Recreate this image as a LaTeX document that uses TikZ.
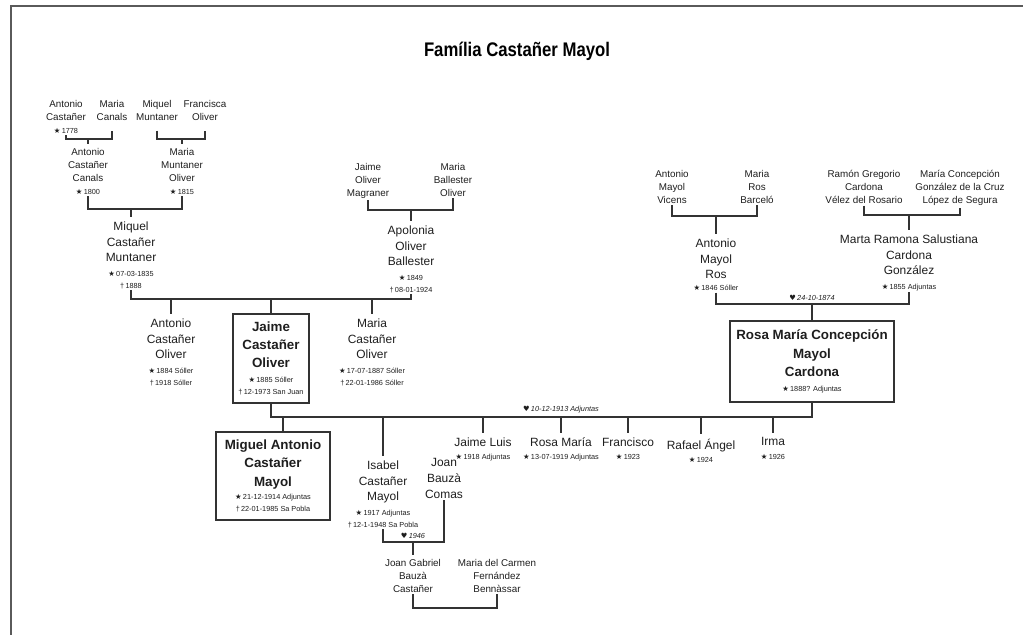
\documentclass[tikz,border=0pt]{standalone}
\usepackage{fontspec}
\setmainfont{Liberation Sans}
\newfontfamily\symfont{DejaVu Sans}
\usetikzlibrary{positioning}

\definecolor{linecol}{HTML}{333333}
\definecolor{framecol}{HTML}{5A5A5A}
\definecolor{textcol}{HTML}{1E1E1E}

\newcommand{\bsym}{{\symfont ★}\,}
\newcommand{\dsym}{†\,}
\newcommand{\msym}{{\symfont ♥}\,}
\newcommand{\dates}[1]{{\fontsize{5.2}{8}\selectfont\mdseries #1}}

\tikzset{
    pers/.style={align=center, inner sep=1pt, anchor=north, text=textcol,
                 font=\fontsize{7}{9.2}\selectfont},            % small names
    persm/.style={pers, font=\fontsize{8.5}{11.2}\selectfont},  % bigger names
    persb/.style={align=center, draw=linecol, line width=1.3pt, text=textcol,
                  inner sep=2pt, font=\bfseries\fontsize{9.5}{13}\selectfont}, % main line, boxed
    wedlabel/.style={inner sep=1pt, anchor=south, text=textcol,
                     font=\fontsize{5.2}{8}\selectfont},         % date of the wedding
    link/.style={draw=linecol, line width=1pt},
    kid/.style={link, shorten >=2pt},
}

\begin{document}
\begin{tikzpicture}[x=0.025cm, y=-0.025cm]
\useasboundingbox (0,0) rectangle (1023,635);
\draw[framecol, line width=1.6pt] (11,640) -- (11,6) -- (1030,6);

\node (title) at (517,51) {\scalebox{0.85}[1]{\bfseries\fontsize{14}{16}\selectfont Família Castañer Mayol}};

% great-great-grandparents
\node[pers] (acas) at (66,99) {Antonio\\Castañer\\\dates{\bsym 1778}};
\node[pers] (mcan) at (112,99) {Maria\\Canals};
\node[pers] (mmun) at (157,99) {Miquel\\Muntaner};
\node[pers] (foli) at (205,99) {Francisca\\Oliver};

% great-grandparents
\node[pers] (acc) at (88,147) {Antonio\\Castañer\\Canals\\\dates{\bsym 1800}};
\node[pers] (mmo) at (182,147) {Maria\\Muntaner\\Oliver\\\dates{\bsym 1815}};
\node[pers] (jom) at (368,162) {Jaime\\Oliver\\Magraner};
\node[pers] (mbo) at (453,162) {Maria\\Ballester\\Oliver};
\node[pers] (amv) at (672,169) {Antonio\\Mayol\\Vicens};
\node[pers] (mrb) at (757,169) {Maria\\Ros\\Barceló};
\node[pers] (rgc) at (864,169) {Ramón Gregorio\\Cardona\\Vélez del Rosario};
\node[pers] (mcg) at (960,169) {María Concepción\\González de la Cruz\\López de Segura};

% grandparents
\node[persm] (mcm) at (131,220) {Miquel\\Castañer\\Muntaner\\[-1pt]\dates{\bsym 07-03-1835}\\[-2.6pt]\dates{\dsym 1888}};
\node[persm] (aob) at (411,224) {Apolonia\\Oliver\\Ballester\\[-1pt]\dates{\bsym 1849}\\[-2.6pt]\dates{\dsym 08-01-1924}};
\node[persm] (amr) at (716,237) {Antonio\\Mayol\\Ros\\[-2.6pt]\dates{\bsym 1846 Sóller}};
\node[persm] (mrs) at (909,233) {Marta Ramona Salustiana\\Cardona\\González\\[-1pt]\dates{\bsym 1855 Adjuntas}};

% parents and their siblings
\node[persm] (aco) at (171,317) {Antonio\\Castañer\\Oliver\\[-1pt]\dates{\bsym 1884 Sóller}\\[-2.6pt]\dates{\dsym 1918 Sóller}};
\node[persb, minimum width=1.9cm, minimum height=2.225cm] (jco) at (271,358.5)
    {Jaime\\Castañer\\Oliver\\[-2.3pt]\dates{\bsym 1885 Sóller}\\[-4.5pt]\dates{\dsym 12-1973 San Juan}};
\node[persm] (mco) at (372,317) {Maria\\Castañer\\Oliver\\[-1pt]\dates{\bsym 17-07-1887 Sóller}\\[-2.6pt]\dates{\dsym 22-01-1986 Sóller}};
\node[persb, minimum width=4.1cm, minimum height=2.025cm] (rmc) at (812,361.5)
    {Rosa María Concepción\\Mayol\\Cardona\\[-2.3pt]\dates{\bsym 1888? Adjuntas}};

% children
\node[persb, minimum width=2.85cm, minimum height=2.2cm] (mac) at (273,476)
    {Miguel Antonio\\Castañer\\Mayol\\[-3.5pt]\dates{\bsym 21-12-1914 Adjuntas}\\[-4.5pt]\dates{\dsym 22-01-1985 Sa Pobla}};
\node[persm] (icm) at (383,459) {Isabel\\Castañer\\Mayol\\[-1pt]\dates{\bsym 1917 Adjuntas}\\[-2.6pt]\dates{\dsym 12-1-1948 Sa Pobla}};
\node[persm] (jbc) at (444,457) {Joan\\Bauzà\\Comas};
\node[persm] (jl) at (483,436) {Jaime Luis\\[-1.8pt]\dates{\bsym 1918 Adjuntas}};
\node[persm] (rm) at (561,436) {Rosa María\\[-1.8pt]\dates{\bsym 13-07-1919 Adjuntas}};
\node[persm] (fr) at (628,436) {Francisco\\[-1.8pt]\dates{\bsym 1923}};
\node[persm] (ra) at (701,437) {Rafael Ángel\\[-1.8pt]\dates{\bsym 1924}};
\node[persm] (ir) at (773,436) {Irma\\[-1.8pt]\dates{\bsym 1926}};

% grandchildren
\node[pers] (jgb) at (413,558) {Joan Gabriel\\Bauzà\\Castañer};
\node[pers] (mcf) at (497,558) {Maria del Carmen\\Fernández\\Bennàssar};

% bars of the couples
\coordinate (c1) at (88,139);
\coordinate (c2) at (182,139);
\coordinate (c3) at (131,209);
\coordinate (c4) at (411,210);
\coordinate (c5) at (716,216);
\coordinate (c6) at (909,215);
\coordinate (w1) at (271,299);
\coordinate (w2) at (812,304);
\coordinate (w3) at (541,417);
\coordinate (w4) at (413,542);
\coordinate (w5) at (455,608);
\coordinate (mactop) at ([xshift=0.25cm]mac.north);

\draw[link] (acas.south) |- (c1) -| ([yshift=-0.2cm]mcan.south);
\draw[link] ([yshift=-0.2cm]mmun.south) |- (c2) -| ([yshift=-0.2cm]foli.south);
\draw[kid] (c1) -- (acc.north);
\draw[kid] (c2) -- (mmo.north);
\draw[link] (acc.south) |- (c3) -| (mmo.south);
\draw[kid] (c3) -- (mcm.north);
\draw[link] (jom.south) |- (c4) -| (mbo.south);
\draw[kid] (c4) -- (aob.north);
\draw[link] (amv.south) |- (c5) -| (mrb.south);
\draw[kid] (c5) -- (amr.north);
\draw[link] (rgc.south) |- (c6) -| (mcg.south);
\draw[kid] (c6) -- (mrs.north);

\draw[link] (mcm.south) |- (w1) -| (aob.south);
\foreach \k in {aco, mco} \draw[kid] (\k.north |- w1) -- (\k.north);
\draw[link] (jco.north |- w1) -- (jco.north);

\draw[link] (amr.south) |- (w2) -| (mrs.south);
\draw[link] (rmc.north |- w2) -- (rmc.north);
\node[wedlabel] (wl2) at (812,302) {\msym\textit{24-10-1874}};

\draw[link] (jco.south) |- (w3) -| (rmc.south);
\draw[link] (mactop |- w3) -- (mactop);
\foreach \k in {icm, jl, rm, fr, ra, ir} \draw[kid] (\k.north |- w3) -- (\k.north);
\node[wedlabel] (wl3) at (561,415) {\msym\textit{10-12-1913 Adjuntas}};

\draw[link] (icm.south) |- (w4) -| (jbc.south);
\draw[kid] (w4) -- (jgb.north);
\node[wedlabel] (wl4) at (413,540) {\msym\textit{1946}};

\draw[link] (jgb.south) |- (w5) -| (mcf.south);

\end{tikzpicture}
\end{document}
